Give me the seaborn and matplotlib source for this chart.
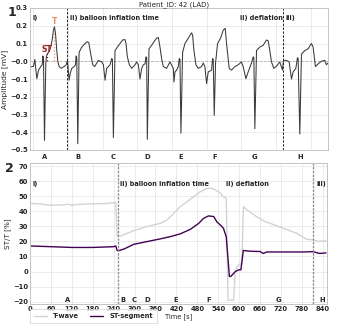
import numpy as np
import pandas as pd
import matplotlib
matplotlib.use("Agg")
import matplotlib.pyplot as plt
import seaborn as sns

sns.set_theme(style="whitegrid")
plt.rcParams['font.family'] = ['DejaVu Sans', 'sans-serif']

# ---------------- data ----------------
title = "Patient_ID: 42 (LAD)"

# Panel 1: concatenated ECG beats (time in s, amplitude in mV)
ecg_time = [-1.095, -0.999, -0.961, -0.903, -0.855, -0.788, -0.749, -0.730, -0.711, -0.682,
            -0.644, -0.624, -0.586, -0.538, -0.500, -0.461, -0.423, -0.394, -0.365, -0.327,
            -0.298, -0.259, -0.202, -0.115, -0.058, -0.019,
            0.029, 0.058, 0.106, 0.173, 0.211, 0.231, 0.250, 0.279, 0.317, 0.394,
            0.490, 0.557, 0.596, 0.653, 0.711, 0.768, 0.826, 0.874, 0.922, 0.970, 1.018,
            1.066, 1.114, 1.162, 1.210, 1.258, 1.278, 1.306, 1.354, 1.422, 1.499,
            1.575, 1.643, 1.671, 1.710, 1.768, 1.835, 1.931, 1.979, 2.027,
            2.075, 2.123, 2.171, 2.219, 2.248, 2.267, 2.286, 2.334, 2.411, 2.478,
            2.555, 2.603, 2.651, 2.699, 2.747, 2.843, 2.939,
            3.036, 3.055, 3.084, 3.132, 3.180, 3.208, 3.228, 3.256, 3.304, 3.372,
            3.468, 3.564, 3.593, 3.631, 3.689, 3.756, 3.852, 3.900,
            3.948, 3.996, 4.044, 4.140, 4.169, 4.188, 4.217, 4.255, 4.313, 4.399,
            4.476, 4.534, 4.572, 4.649, 4.716, 4.812, 4.908, 5.004, 5.052,
            5.130, 5.197, 5.293, 5.341, 5.360, 5.389, 5.437, 5.533, 5.629, 5.725,
            5.773, 5.821, 5.869, 5.936, 6.013, 6.109, 6.186, 6.215, 6.302, 6.378,
            6.446, 6.494, 6.571, 6.619, 6.638, 6.686, 6.734, 6.830, 6.926, 7.022,
            7.070, 7.137, 7.214, 7.310, 7.406, 7.454, 7.502]
ecg_mv = [-0.032, -0.028, 0.010, -0.098, -0.050, -0.030, -0.020, 0.030, 0.020, -0.446,
          -0.010, 0.030, 0.045, 0.060, 0.080, 0.120, 0.175, 0.194, 0.160, 0.060,
          0.000, -0.030, -0.040, -0.030, -0.020, 0.005,
          -0.107, -0.070, -0.040, -0.030, -0.020, 0.030, 0.020, -0.465, 0.050, 0.080,
          0.100, 0.110, 0.105, 0.040, -0.020, -0.030, -0.010, 0.005, 0.000, -0.004, -0.020,
          -0.107, -0.040, -0.030, -0.020, 0.015, 0.010, -0.430, 0.060, 0.080, 0.100,
          0.120, 0.122, 0.100, 0.025, -0.020, -0.040, -0.020, -0.004, -0.020,
          -0.100, -0.040, -0.020, -0.015, 0.025, 0.020, -0.440, 0.070, 0.090, 0.110,
          0.130, 0.134, 0.080, 0.015, -0.030, -0.040, -0.004,
          -0.040, -0.117, -0.060, -0.050, -0.030, 0.015, 0.010, -0.405, 0.050, 0.100,
          0.130, 0.160, 0.147, 0.060, -0.020, -0.040, -0.030, -0.010,
          -0.030, -0.126, -0.060, -0.050, 0.015, 0.010, -0.305, -0.010, 0.100, 0.130,
          0.175, 0.185, 0.100, -0.040, -0.050, -0.030, -0.020, -0.004, -0.030,
          -0.098, -0.060, -0.010, 0.025, 0.020, -0.380, 0.060, 0.080, 0.090, 0.120,
          0.115, 0.060, -0.004, -0.040, -0.028, -0.004, -0.050, 0.005, 0.005, -0.004,
          -0.100, -0.060, -0.040, 0.020, 0.015, -0.410, 0.040, 0.060, 0.070, 0.100,
          0.080, -0.030, -0.015, 0.000, 0.005, -0.020, -0.010]

beat_letters = ["A", "B", "C", "D", "E", "F", "G", "H"]
beat_pos_ecg = [-0.68, 0.28, 1.31, 2.29, 3.26, 4.22, 5.39, 6.69]
phase_lines_ecg = [-0.03, 6.20]
st_mark = (-0.60, 0.045)
t_mark = (-0.40, 0.19)

# Panel 2: ST/T time course (time in s, value in %)
t_time = [0, 30, 60, 90, 110, 120, 140, 180, 210, 241, 246, 250, 260, 280, 298, 336, 374,
          393, 403, 431, 460, 489, 508, 522, 541, 555, 563, 568, 584, 589, 598, 608, 612,
          622, 650, 674, 689, 727, 765, 793, 812, 827, 849]
t_wave = [45.3, 44.8, 44.0, 44.2, 44.6, 44.0, 44.6, 45.0, 45.0, 45.7, 45.8, 23.2, 23.6,
          25.5, 27.2, 29.9, 32.0, 34.2, 36.5, 43.0, 48.0, 53.0, 55.2, 55.2, 53.0, 49.7,
          48.6, -19.0, -19.0, 1.0, 4.4, 5.5, 43.0, 41.0, 36.4, 33.1, 32.0, 28.7, 25.4,
          21.5, 21.0, 20.0, 20.4]
st_time = [0, 60, 120, 180, 240, 246, 250, 256, 270, 298, 336, 374, 403, 431, 460, 484,
           498, 512, 527, 536, 546, 555, 563, 572, 577, 589, 598, 605, 612, 631, 660, 669,
           679, 727, 784, 812, 831, 849]
st_seg = [17.0, 16.5, 16.0, 16.0, 16.5, 17.0, 14.0, 14.0, 15.0, 18.1, 19.9, 21.7, 23.2,
          25.0, 28.0, 32.0, 35.3, 36.9, 36.5, 33.0, 30.9, 28.7, 23.0, -3.3, -3.0, 0.0,
          1.1, 1.2, 14.0, 13.5, 13.3, 12.0, 13.0, 13.0, 13.0, 13.2, 12.0, 12.4]

beat_times = [107, 268, 298, 336, 419, 512, 712, 839]
phase_lines_time = [252, 812]

# ---------------- figure ----------------
W, H = 337, 328
fig = plt.figure(figsize=(W / 100, H / 100), dpi=100)
ax1 = fig.add_axes([30 / W, 1 - 150 / H, 298 / W, 142 / H])
ax2 = fig.add_axes([30 / W, 1 - 304 / H, 297 / W, 141 / H])

grid_kw = dict(color="#e8e8e8", linewidth=0.6)
tick_fs = 4.9

for ax in (ax1, ax2):
    for s in ax.spines.values():
        s.set_color("#c4c4c4")
        s.set_linewidth(0.7)
    ax.grid(True, which="major", **grid_kw)
    ax.tick_params(length=0, pad=1.5, labelsize=tick_fs)
    ax.set_axisbelow(True)

# ---- panel 1 ----
ecg_df = pd.DataFrame({"t": ecg_time, "mv": ecg_mv})
sns.lineplot(data=ecg_df, x="t", y="mv", ax=ax1, color="#3a3a3a", linewidth=0.75,
             estimator=None, sort=False)
ax1.axhline(0, color="#b0b0b0", linestyle=(0, (3, 2)), linewidth=0.6, zorder=1)
for xv in phase_lines_ecg:
    ax1.axvline(xv, color="#222222", linestyle=(0, (2.5, 1.5)), linewidth=0.7)
ax1.plot([st_mark[0]] * 2, [0, st_mark[1]], color="#9b1b1b", linestyle=":", linewidth=0.9)
ax1.plot([t_mark[0]] * 2, [0, t_mark[1]], color="#f08a5d", linestyle=":", linewidth=0.9)
ax1.text(t_mark[0], 0.222, "T", color="#f08a5d", fontsize=5.5, fontweight="bold",
         ha="center", va="center")
ax1.text(-0.625, 0.066, "ST", color="#9b1b1b", fontsize=5.5, fontweight="bold",
         ha="center", va="center")

ax1.set_xlim(-1.1, 7.5)
ax1.set_ylim(-0.5, 0.3)
ax1.set_xticks(range(-1, 8))
ax1.set_xticklabels([])
ax1.set_xticks(beat_pos_ecg, minor=True)
ax1.set_xticklabels(beat_letters, minor=True, fontsize=tick_fs, fontweight="bold")
ax1.tick_params(axis="x", which="minor", length=0, pad=3)
ax1.set_yticks(np.round(np.arange(-0.5, 0.31, 0.1), 1))
ax1.set_yticklabels([f"{v:.1f}".replace("-", "\u2212") for v in np.arange(-0.5, 0.31, 0.1)],
                    fontweight="bold")
ax1.set_xlabel("")
ax1.set_ylabel("Amplitude [mV]", fontsize=5.4, labelpad=1.5)
lab_kw = dict(fontsize=4.7, fontweight="bold", va="center", ha="left")
ax1.text(-1.04, 0.243, "i)", **lab_kw)
ax1.text(0.06, 0.243, "ii) balloon inflation time", **lab_kw)
ax1.text(4.96, 0.243, "ii) deflation", **lab_kw)
ax1.text(6.27, 0.243, "iii)", **lab_kw)

# ---- panel 2 ----
sns.lineplot(x=t_time, y=t_wave, ax=ax2, color="#d3d3d3", linewidth=1.0,
             estimator=None, sort=False, label="T-wave")
sns.lineplot(x=st_time, y=st_seg, ax=ax2, color="#440154", linewidth=1.0,
             estimator=None, sort=False, label="ST-segment")
for xv in phase_lines_time:
    ax2.axvline(xv, color="#8a8a8a", linestyle=(0, (2, 1)), linewidth=0.9)
ax2.set_xlim(0, 852)
ax2.set_ylim(-21.5, 72)
ax2.set_xticks(range(0, 841, 60))
ax2.set_xticklabels([str(v) for v in range(0, 841, 60)], fontweight="bold")
ax2.set_yticks(range(-20, 71, 10))
ax2.set_yticklabels([str(v).replace("-", "\u2212") for v in range(-20, 71, 10)],
                    fontweight="bold")
ax2.set_xlabel("Time [s]", fontsize=4.8, labelpad=1)
ax2.set_ylabel("ST/T [%]", fontsize=5.2, labelpad=1.5)
for xv, lt in zip(beat_times, beat_letters):
    ax2.text(xv, -18.8, lt, fontsize=tick_fs, fontweight="bold", ha="center", va="center")
ax2.text(8, 58, "i)", **lab_kw)
ax2.text(258, 58, "ii) balloon inflation time", **lab_kw)
ax2.text(563, 58, "ii) deflation", **lab_kw)
ax2.text(821, 58, "iii)", **lab_kw)

leg = ax2.legend(loc="upper left", bbox_to_anchor=(30 / W, 1 - 309 / H),
                 bbox_transform=fig.transFigure, ncol=2, frameon=True,
                 prop={"size": 4.8, "weight": "bold"}, handlelength=2.0,
                 columnspacing=1.6, borderpad=0.6, handletextpad=0.9,
                 fancybox=False, borderaxespad=0)
leg.get_frame().set_edgecolor("#d0d0d0")
leg.get_frame().set_linewidth(0.6)

# ---- titles / panel numbers ----
fig.text(174 / W, 1 - 5 / H, title, fontsize=5.0, ha="center", va="center")
fig.text(12 / W, 1 - 12 / H, "1", fontsize=9, fontweight="bold", ha="center", va="center")
fig.text(9 / W, 1 - 168 / H, "2", fontsize=9, fontweight="bold", ha="center", va="center")

fig.savefig("out.png", dpi=100)
